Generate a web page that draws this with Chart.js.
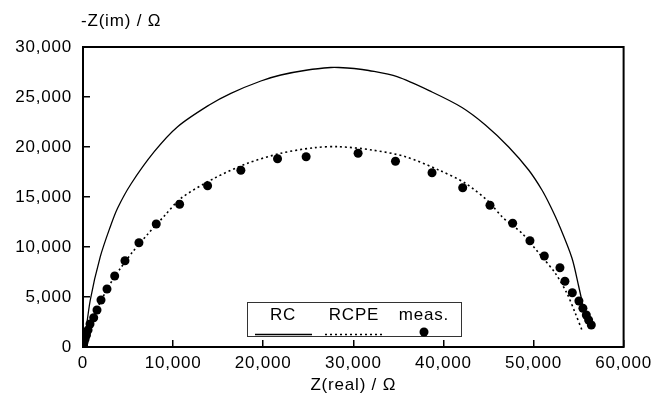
<!DOCTYPE html>
<html><head><meta charset="utf-8">
<script src="https://cdn.jsdelivr.net/npm/chart.js@4/dist/chart.umd.min.js"></script>
<style>html,body{margin:0;padding:0;background:#fff}#wrap{width:665px;height:400px}</style>
</head><body><div id="wrap"><canvas id="c" width="665" height="400"></canvas></div>
<script>
const xTitle = 'Z(real) / Ω';
const yTitle = '-Z(im) / Ω';
const seriesNames = ['RC', 'RCPE', 'meas.'];
const xTicks = [0, 10000, 20000, 30000, 40000, 50000, 60000];
const yTicks = [0, 5000, 10000, 15000, 20000, 25000, 30000];

const rcX = [50, 144, 810, 1919, 3028, 3848, 5323, 7907, 10502, 14007, 16413, 19740, 21958, 24920, 27504, 28390, 30088, 31718, 34856, 38738, 42065, 44660, 47244, 49462, 50937, 51869, 52789, 54265, 55007, 55450];
const rcY = [0, 370, 4700, 9030, 12030, 13900, 16300, 19530, 22030, 24200, 25370, 26600, 27200, 27700, 27950, 27950, 27850, 27650, 27030, 25500, 23950, 22200, 20000, 17700, 15700, 14100, 12300, 8900, 6100, 4300];

const rcpeX = [50, 300, 700, 1300, 2100, 3000, 4100, 5500, 7100, 9127, 10868, 14561, 18265, 21958, 25652, 28390, 32084, 35788, 39481, 42442, 45026, 46501, 48719, 50604, 52424, 53710, 54642, 55374];
const rcpeY = [0, 1000, 2100, 3300, 4800, 6300, 7800, 9500, 11200, 13200, 14870, 16870, 18370, 19370, 19930, 20030, 19700, 19030, 17700, 16370, 14530, 13030, 11370, 9370, 7370, 5370, 3370, 1700];

const measX = [60, 120, 230, 390, 560, 780, 1187, 1553, 1996, 2662, 3516, 4658, 6210, 8129, 10724, 13829, 17522, 21592, 24764, 30531, 34679, 38738, 42142, 45170, 47687, 49606, 51203, 52933, 53488, 54309, 55040, 55484, 55861, 56116, 56415];
const measY = [200, 500, 800, 1200, 1700, 2300, 2930, 3700, 4700, 5800, 7100, 8630, 10430, 12300, 14270, 16130, 17670, 18830, 19030, 19370, 18570, 17430, 15930, 14170, 12370, 10630, 9100, 7930, 6570, 5430, 4600, 3870, 3200, 2700, 2200];

const toPts = (xs, ys) => xs.map((x, i) => ({x: x, y: ys[i]}));
const INK = '#000';
const FONT = "'Liberation Sans', Arial, sans-serif";
const SP = '0.8px';

const spacing = {
  id: 'spacing',
  beforeUpdate(c) { c.ctx.letterSpacing = SP; },
  beforeDraw(c) { c.ctx.letterSpacing = SP; }
};

const frame = {
  id: 'frame',
  beforeDatasetsDraw(c) {
    const a = c.chartArea, ctx = c.ctx;
    ctx.save();
    ctx.strokeStyle = INK; ctx.lineWidth = 2;
    ctx.strokeRect(a.left, a.top, a.right - a.left, a.bottom - a.top);
    ctx.restore();
  },
  afterDraw(c) {
    const ctx = c.ctx;
    ctx.save();
    ctx.letterSpacing = SP;
    ctx.font = '17px ' + FONT;
    ctx.fillStyle = INK;
    ctx.textAlign = 'left';
    ctx.textBaseline = 'middle';
    ctx.fillText(yTitle, 81, 21);
    ctx.restore();
  }
};

const legendBox = {
  id: 'legendBox',
  afterDatasetsDraw(c) {
    const ctx = c.ctx;
    const ds = c.data.datasets;
    ctx.save();
    ctx.fillStyle = '#fff';
    ctx.fillRect(247, 302, 215, 35);
    ctx.strokeStyle = '#333'; ctx.lineWidth = 1;
    ctx.strokeRect(247.5, 302.5, 214, 34);
    ctx.letterSpacing = SP;
    ctx.font = '17px ' + FONT;
    ctx.fillStyle = INK;
    ctx.textAlign = 'center';
    ctx.textBaseline = 'middle';
    const cx = [283, 354, 424];
    const sx = [[255, 312], [325, 384]];
    for (let i = 0; i < ds.length; i++) {
      ctx.fillText(ds[i].label, cx[i], 315);
      if (i < 2) {
        ctx.save();
        ctx.strokeStyle = ds[i].borderColor;
        ctx.lineWidth = ds[i].borderWidth;
        ctx.setLineDash(ds[i].borderDash || []);
        ctx.beginPath();
        ctx.moveTo(sx[i][0], 334.5); ctx.lineTo(sx[i][1], 334.5);
        ctx.stroke();
        ctx.restore();
      } else {
        ctx.beginPath();
        ctx.fillStyle = ds[i].backgroundColor;
        ctx.arc(cx[i], 332, ds[i].pointRadius, 0, Math.PI * 2);
        ctx.fill();
      }
    }
    ctx.restore();
  }
};

new Chart(document.getElementById('c'), {
  type: 'scatter',
  data: {
    datasets: [
      {label: seriesNames[0], data: toPts(rcX, rcY), showLine: true, borderColor: INK, borderWidth: 1.3, pointRadius: 0, tension: 0.3, fill: false},
      {label: seriesNames[1], data: toPts(rcpeX, rcpeY), showLine: true, borderColor: INK, borderWidth: 1.6, borderDash: [2, 3], pointRadius: 0, tension: 0.3, fill: false},
      {label: seriesNames[2], data: toPts(measX, measY), showLine: false, backgroundColor: INK, borderColor: INK, pointRadius: 4.5, pointBorderWidth: 0}
    ]
  },
  options: {
    responsive: false,
    animation: false,
    devicePixelRatio: 1,
    layout: {padding: {left: 0, right: 40, top: 47, bottom: 0}},
    plugins: {legend: {display: false}, tooltip: {enabled: false}, title: {display: false}},
    scales: {
      x: {
        type: 'linear', min: 0, max: 60000,
        afterBuildTicks: s => { s.ticks = xTicks.map(v => ({value: v})); },
        afterFit: s => { s.height = 53; },
        border: {display: false},
        grid: {drawOnChartArea: false, drawTicks: true, tickLength: -7, color: INK, lineWidth: 1.5},
        ticks: {color: INK, padding: 13, maxRotation: 0, font: {family: FONT, size: 17}},
        title: {display: true, text: xTitle, color: INK, font: {family: FONT, size: 17}, padding: {top: 0, bottom: 4}}
      },
      y: {
        type: 'linear', min: 0, max: 30000,
        afterBuildTicks: s => { s.ticks = yTicks.map(v => ({value: v})); },
        afterFit: s => { s.width = 83; },
        border: {display: false},
        grid: {drawOnChartArea: false, drawTicks: true, tickLength: -7, color: INK, lineWidth: 1.5},
        ticks: {color: INK, padding: 18, font: {family: FONT, size: 17}}
      }
    }
  },
  plugins: [spacing, frame, legendBox]
});
</script>
</body></html>
